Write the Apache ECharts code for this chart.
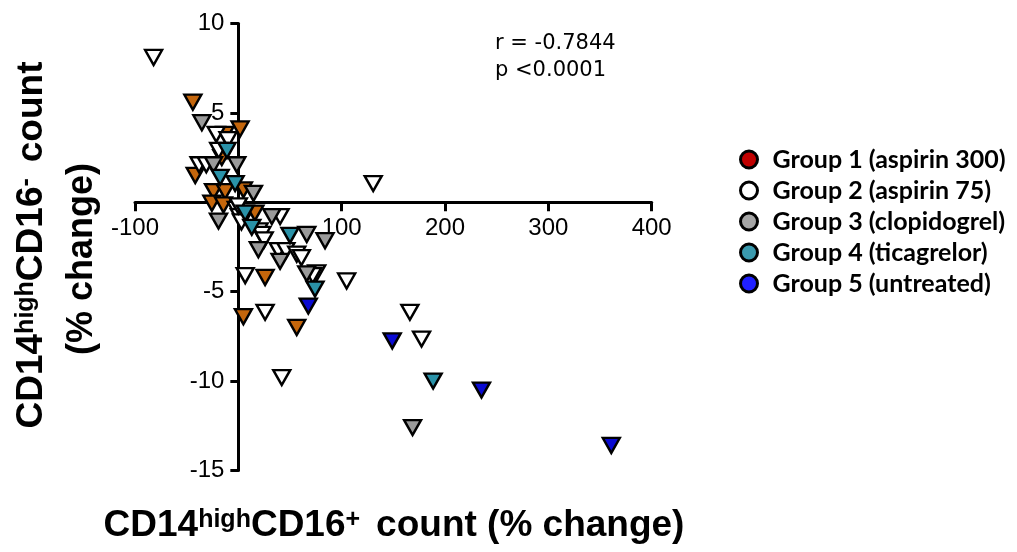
<!DOCTYPE html>
<html>
<head>
<meta charset="utf-8">
<script src="https://cdn.jsdelivr.net/npm/echarts@6/dist/echarts.min.js"></script>
<style>
html,body{margin:0;padding:0;background:#fff;}
#chart{width:1017px;height:552px;}
</style>
</head>
<body>
<div id="chart"></div>
<script>
// ---- data (x = CD14highCD16+ % change, y = CD14highCD16- % change) ----
const groupNames = ['Group 1 (aspirin 300)', 'Group 2 (aspirin 75)', 'Group 3 (clopidogrel)', 'Group 4 (ticagrelor)', 'Group 5 (untreated)'];
const group1 = [[-44, 5.6], [1.7, 4.1], [-13, 3.8], [-16, 2.5], [-41.7, 1.5], [-24, 0.6], [-12.8, 0.6], [4.9, 0.7], [-25.6, -0.05], [-14.4, -0.15], [16, -0.6], [25.9, -4.2], [4.9, -6.4], [56.5, -7.0]];
const group2 = [[-82, 8.1], [-21.4, 3.8], [-10, 3.5], [-19, 2.9], [-38, 2.1], [-31, 2.1], [-2, -0.4], [1, -0.8], [3, -1.1], [0, -0.2], [20, -1.6], [22.7, -1.8], [25, -2.1], [40.4, -0.8], [38.7, -2.7], [46, -2.7], [56.5, -2.9], [61, -3.1], [75.8, -3.95], [72, -4.1], [6.6, -4.1], [104.8, -4.4], [25.9, -6.15], [42, -9.8], [130.5, 1.05], [166, -6.15], [177.3, -7.65]];
const group3 = [[-35.3, 4.45], [-24, 2.1], [-1.5, 2.1], [14.6, 0.5], [-19.2, -1.05], [32.4, -0.8], [66.2, -1.8], [83.9, -2.15], [19.4, -2.65], [40.4, -3.3], [66.2, -4.0], [168.6, -12.6]];
const group4 = [[-11, 2.9], [-17.6, 1.4], [-3.1, 1.05], [6.6, -0.6], [13, -1.4], [50, -1.85], [74.2, -4.85], [188.5, -10.0]];
const group5 = [[67.7, -5.8], [148.9, -7.75], [235.3, -10.5], [360.9, -13.6]];
const groupData = [group1, group2, group3, group4, group5];
const xMin = -100, xMax = 400, xStep = 100;
const yMin = -15, yMax = 10, yStep = 5;
const statLines = ['r = -0.7844', 'p <0.0001'];

// ---- styling / layout ----
const markerColors = ['#c4660c', '#ffffff', '#9a9a9a', '#2a92a8', '#0a0ad2'];
const legendColors = ['#c00000', '#ffffff', '#a6a6a6', '#3a9aae', '#2020ff'];
const ff = '"Liberation Sans", Arial, sans-serif';
const W = 1017, H = 552;
const gridL = 135, gridR = 651.7, gridT = 23.5, gridB = 470.5;
// axes cross at (0,0): shift each axis inward to the zero line
const zeroX = gridL + (0 - xMin) / (xMax - xMin) * (gridR - gridL);
const zeroY = gridT + (yMax - 0) / (yMax - yMin) * (gridB - gridT);

const chart = echarts.init(document.getElementById('chart'));

const richTitle = {
  b: {fontSize: 37, fontWeight: 'bold', fontFamily: ff, color: '#000', lineHeight: 37, verticalAlign: 'bottom'},
  s: {fontSize: 25, fontWeight: 'bold', fontFamily: ff, color: '#000', lineHeight: 24, padding: [0, 0, 26, 0], verticalAlign: 'top'},
  g: {fontSize: 37, width: 16}
};

const series = groupNames.map((name, i) => ({
  name: name,
  type: 'scatter',
  data: groupData[i],
  symbol: 'triangle',
  symbolRotate: 180,
  symbolSize: [17, 15],
  itemStyle: {color: markerColors[i], borderColor: '#000', borderWidth: 2.4, opacity: 1},
  emphasis: {disabled: true},
  z: 2 + i
}));

chart.setOption({
  animation: false,
  backgroundColor: '#fff',
  grid: {left: gridL, right: W - gridR, top: gridT, bottom: H - gridB, containLabel: false},
  xAxis: {
    type: 'value', min: xMin, max: xMax, interval: xStep,
    position: 'bottom', offset: -(gridB - zeroY),
    splitLine: {show: false},
    axisLine: {onZero: false, lineStyle: {color: '#000', width: 3}},
    axisTick: {show: true, inside: false, length: 9, lineStyle: {color: '#000', width: 3}},
    axisLabel: {margin: 14, color: '#000', fontSize: 24, fontFamily: ff,
      formatter: v => v === 0 ? '' : String(v)}
  },
  yAxis: {
    type: 'value', min: yMin, max: yMax, interval: yStep,
    position: 'left', offset: -(zeroX - gridL),
    splitLine: {show: false},
    axisLine: {onZero: false, lineStyle: {color: '#000', width: 3}},
    axisTick: {show: true, inside: false, length: 8, lineStyle: {color: '#000', width: 3}},
    axisLabel: {margin: 14, color: '#000', fontSize: 24, fontFamily: ff,
      formatter: v => v === 0 ? '' : String(v)}
  },
  legend: {
    orient: 'vertical', left: 739, top: 144, padding: 0, itemGap: 0,
    icon: 'circle', itemWidth: 17, itemHeight: 17,
    selectedMode: false,
    textStyle: {fontFamily: 'Lato, "Open Sans", sans-serif', fontWeight: 'bold', fontSize: 25, color: '#000', lineHeight: 31, padding: [0, 0, 0, 10]},
    data: groupNames.map((n, i) => ({name: n, itemStyle: {color: legendColors[i], borderColor: '#000', borderWidth: 3}}))
  },
  graphic: [
    {type: 'text', left: 495, top: 30, silent: true,
      style: {text: statLines.join('\n'), font: '21px "DejaVu Sans", sans-serif', fill: '#000', lineHeight: 27}},
    {type: 'text', x: 394, y: 526, silent: true,
      style: {text: '{b|CD14}{s|high}{b|CD16}{s|+}{g| }{b|count (% change)}', rich: richTitle, align: 'center', verticalAlign: 'middle'}},
    {type: 'text', x: 32, y: 245, rotation: Math.PI / 2, silent: true,
      style: {text: '{b|CD14}{s|high}{b|CD16}{s|-}{g| }{b|count}', rich: richTitle, align: 'center', verticalAlign: 'middle'}},
    {type: 'text', x: 82, y: 259, rotation: Math.PI / 2, silent: true,
      style: {text: '(% change)', font: 'bold 36px ' + ff, fill: '#000', align: 'center', verticalAlign: 'middle'}}
  ],
  series: series
});
</script>
</body>
</html>
